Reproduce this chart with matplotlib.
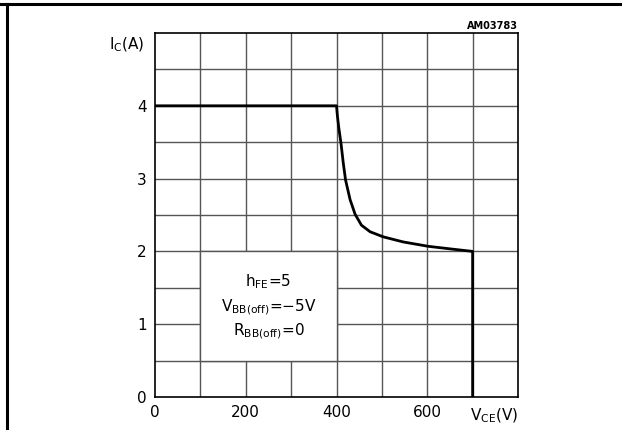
import matplotlib
matplotlib.use("Agg")
import matplotlib.pyplot as plt
from matplotlib.patches import Rectangle
from matplotlib.lines import Line2D

plt.rcParams['font.family'] = ['DejaVu Sans']
plt.rcParams['mathtext.fontset'] = 'dejavusans'

# Data
vce = [0, 400, 402, 405, 410, 415, 420, 430, 441, 455, 474, 503, 547, 602, 657, 700, 700]
ic = [4.0, 4.0, 3.86, 3.70, 3.48, 3.21, 2.98, 2.71, 2.51, 2.36, 2.27, 2.20, 2.13, 2.07, 2.03, 2.0, 0.0]
xticks = [0, 200, 400, 600]
yticks = [0, 1, 2, 3, 4]
box_lines = [r"h$_{\mathrm{FE}}$=5", r"V$_{\mathrm{BB(off)}}$=−5V", r"R$_{\mathrm{BB(off)}}$=0"]
code = "AM03783"

W, H = 622, 430
fig = plt.figure(figsize=(W / 100, H / 100), dpi=100)
ax = fig.add_axes([155 / W, 1 - 397 / H, 363 / W, 364 / H])
ax.set_xlim(0, 800)
ax.set_ylim(0, 5)

gc = '#555555'
for x in range(100, 800, 100):
    ax.axvline(x, color=gc, lw=1.0, zorder=0.5)
for y in [0.5 * k for k in range(1, 10)]:
    ax.axhline(y, color=gc, lw=1.0, zorder=0.5)

ax.add_patch(Rectangle((100, 0.5), 300, 1.5, facecolor='white', edgecolor=gc, lw=1.0, zorder=1))
for t, y in zip(box_lines, [1.58, 1.24, 0.90]):
    ax.text(250, y, t, ha='center', va='center', fontsize=11, zorder=3)

ax.plot(vce, ic, color='black', lw=2.0, zorder=4, solid_joinstyle='round')

for s in ax.spines.values():
    s.set_color('black')
    s.set_linewidth(1.2)

ax.set_xticks(xticks)
ax.set_yticks(yticks)
ax.tick_params(length=0, labelsize=11, pad=6)
ax.set_xticklabels([str(v) for v in xticks])
ax.set_yticklabels([str(v) for v in yticks])

fig.text(145 / W, 1 - 45 / H, r"I$_{\mathrm{C}}$(A)", ha='right', va='center', fontsize=11)
fig.text(518 / W, 1 - 416 / H, r"V$_{\mathrm{CE}}$(V)", ha='right', va='center', fontsize=11)
fig.text(518 / W, 1 - 26 / H, code, ha='right', va='center', fontsize=7, fontweight='bold')

# outer frame lines
fig.add_artist(Line2D([0, 1], [1 - 4 / H, 1 - 4 / H], transform=fig.transFigure, color='black', lw=2.2))
fig.add_artist(Line2D([7 / W, 7 / W], [0, 1 - 4 / H], transform=fig.transFigure, color='black', lw=2.2))

fig.savefig("out.png", dpi=100)
